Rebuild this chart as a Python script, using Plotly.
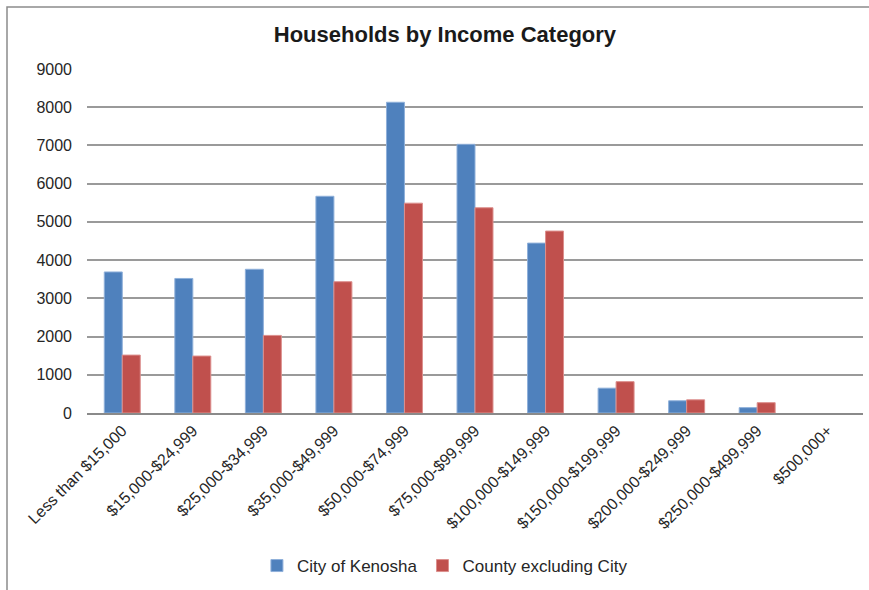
import plotly.graph_objects as go

categories = [
    "Less than $15,000", "$15,000-$24,999", "$25,000-$34,999", "$35,000-$49,999",
    "$50,000-$74,999", "$75,000-$99,999", "$100,000-$149,999", "$150,000-$199,999",
    "$200,000-$249,999", "$250,000-$499,999", "$500,000+",
]
city_kenosha = [3690, 3520, 3760, 5670, 8130, 7030, 4445, 650, 320, 140, 0]
county_excl_city = [1515, 1490, 2030, 3435, 5490, 5370, 4760, 820, 345, 270, 0]
y_ticks = [0, 1000, 2000, 3000, 4000, 5000, 6000, 7000, 8000, 9000]


def edge_widths(values):
    # no outline on empty bars, so zero-height bars stay invisible
    return [1 if v > 0 else 0 for v in values]


fig = go.Figure()
fig.add_trace(go.Bar(
    x=categories, y=city_kenosha, name="City of Kenosha",
    marker=dict(color="#4F81BD",
                line=dict(color="#8FB0DA", width=edge_widths(city_kenosha))),
))
fig.add_trace(go.Bar(
    x=categories, y=county_excl_city, name="County excluding City",
    marker=dict(color="#C0504D",
                line=dict(color="#DC8F8D", width=edge_widths(county_excl_city))),
))

fig.update_layout(
    width=869, height=590,
    margin=dict(l=87, r=6, t=69, b=177),
    paper_bgcolor="white", plot_bgcolor="white",
    barmode="group", bargap=0.49, bargroupgap=0,
    font=dict(family="Liberation Sans, Arial, sans-serif", size=16, color="#262626"),
    title=dict(
        text="<b>Households by Income Category</b>",
        x=0.512, xref="container", xanchor="center",
        y=1 - 34 / 590, yref="container", yanchor="middle",
        font=dict(size=22, color="#1a1a1a"),
    ),
    showlegend=True,
    legend=dict(
        orientation="h", x=0.512, xanchor="center", xref="container",
        y=1 - 566 / 590, yref="container", yanchor="middle",
        font=dict(size=17, color="#262626"),
        itemwidth=30, traceorder="normal",
    ),
    xaxis=dict(
        tickangle=-45, showgrid=False, showline=True,
        linecolor="#8A8A8A", linewidth=2, ticks="",
        tickfont=dict(size=16), automargin=False,
    ),
    yaxis=dict(
        range=[0, 9000], tickvals=y_ticks, showgrid=True,
        gridcolor="#9A9A9A", gridwidth=1.5, zeroline=False,
        showline=False, ticks="", ticklabelstandoff=14,
        tickfont=dict(size=16), automargin=False,
    ),
    shapes=[
        dict(type="rect", xref="paper", yref="paper",
             x0=(7 - 87) / 776, x1=1.2, y0=-1.0, y1=(413 - 7) / 344,
             line=dict(color="#8C8C8C", width=1.5), fillcolor="rgba(0,0,0,0)",
             layer="below"),
    ],
)

fig.write_html("out.html")
